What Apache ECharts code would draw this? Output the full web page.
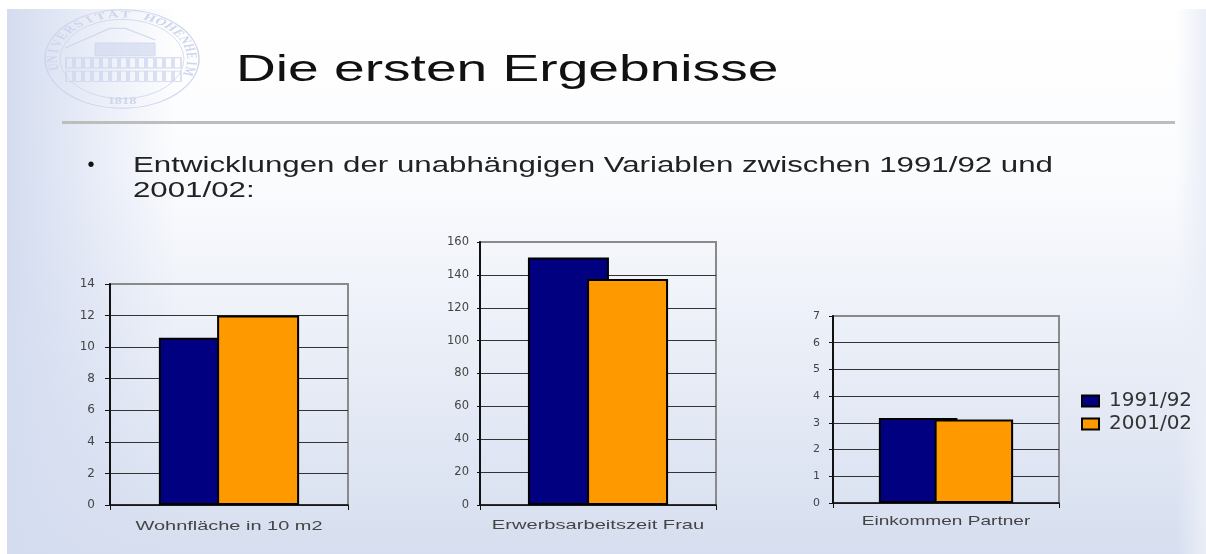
<!DOCTYPE html>
<html>
<head>
<meta charset="utf-8">
<title>Die ersten Ergebnisse</title>
<script src="https://cdn.jsdelivr.net/npm/echarts@6/dist/echarts.min.js"></script>
<style>
html, body { margin: 0; padding: 0; background: #fff; }
#main { width: 1206px; height: 554px; }
</style>
</head>
<body>
<div id="main"></div>
<script>
// Werte
const seriesNames = ['1991/92', '2001/02']
const categories = ['Wohnfläche in 10 m2', 'Erwerbsarbeitszeit Frau', 'Einkommen Partner']
const values9192 = [10.6, 150.5, 3.18]
const values0102 = [12, 137.5, 3.13]
const axisMax = [14, 160, 7]
const axisStep = [2, 20, 1]

const slideTitle = 'Die ersten Ergebnisse'
const bulletText = ['Entwicklungen der unabhängigen Variablen zwischen 1991/92 und', '2001/02:']
const sealText = 'UNIVERSITÄT HOHENHEIM'

// Plotflächen und Balken je Diagramm
const plots = [
	{ left: 110, top: 284, width: 238, height: 221, barWidth: 82, barGap: '-29%', tick: 5, margin: 15, fontSize: 12, labelX: 229, labelY: 526, labelSize: 13.4 },
	{ left: 480, top: 242, width: 236, height: 263, barWidth: 81, barGap: '-27%', tick: 3, margin: 11, fontSize: 11.5, labelX: 598, labelY: 525, labelSize: 13.5 },
	{ left: 833, top: 316, width: 226, height: 187, barWidth: 78.5, barGap: '-29%', tick: 4, margin: 13, fontSize: 11, labelX: 946, labelY: 521, labelSize: 12.8 }
]
const textStretch = 1.49

const grids = []
const xAxes = []
const yAxes = []
const series = []

plots.forEach((p, i) => {
	grids.push({
		left: p.left, top: p.top, width: p.width, height: p.height,
		show: true, borderColor: '#8a8a8a', borderWidth: 2, backgroundColor: 'transparent'
	})
	xAxes.push({
		type: 'category', gridIndex: i, data: [categories[i]],
		axisLine: { lineStyle: { color: '#111', width: 1.5 } },
		axisTick: { show: true, alignWithLabel: false, length: 5, lineStyle: { color: '#111' } },
		axisLabel: { show: false }
	})
	yAxes.push({
		type: 'value', gridIndex: i, min: 0, max: axisMax[i], interval: axisStep[i],
		axisLine: { show: true, lineStyle: { color: '#111', width: 2 } },
		axisTick: { show: true, length: p.tick, lineStyle: { color: '#111' } },
		axisLabel: { color: '#444', fontFamily: 'DejaVu Sans', fontSize: p.fontSize, margin: p.margin },
		splitLine: { show: true, showMaxLine: false, lineStyle: { color: '#333', width: 1.2 } }
	})
	series.push({
		name: seriesNames[0], type: 'bar', xAxisIndex: i, yAxisIndex: i,
		data: [values9192[i]], barWidth: p.barWidth, barGap: p.barGap,
		itemStyle: { color: '#000080', borderColor: '#000', borderWidth: 2 }
	})
	series.push({
		name: seriesNames[1], type: 'bar', xAxisIndex: i, yAxisIndex: i,
		data: [values0102[i]], barWidth: p.barWidth, barGap: p.barGap,
		itemStyle: { color: '#ff9900', borderColor: '#000', borderWidth: 2 }
	})
})

// Hintergrund der Folie
const background = [
	{
		type: 'rect', z: -30, silent: true,
		shape: { x: 7, y: 9, width: 1199, height: 545 },
		style: { fill: new echarts.graphic.LinearGradient(0, 0, 0, 1, [
			{ offset: 0, color: '#ffffff' },
			{ offset: 0.3, color: '#fbfcfe' },
			{ offset: 1, color: '#d6deef' }
		]) }
	},
	{
		type: 'rect', z: -29, silent: true,
		shape: { x: 7, y: 9, width: 170, height: 545 },
		style: { fill: new echarts.graphic.LinearGradient(0, 0, 1, 0, [
			{ offset: 0, color: 'rgba(212,220,240,1)' },
			{ offset: 1, color: 'rgba(212,220,240,0)' }
		]) }
	},
	{
		type: 'rect', z: -29, silent: true,
		shape: { x: 1176, y: 9, width: 30, height: 545 },
		style: { fill: new echarts.graphic.LinearGradient(0, 0, 1, 0, [
			{ offset: 0, color: 'rgba(234,238,247,0)' },
			{ offset: 1, color: 'rgba(234,238,247,1)' }
		]) }
	},
	{
		type: 'rect', z: -20, silent: true,
		shape: { x: 62, y: 121, width: 1113, height: 3 },
		style: { fill: '#bdbdbd' }
	}
]

// Siegel oben links, als Gruppe in die Ellipse gestaucht
const sealColor = '#cdd5ec'
const sealChildren = [
	{ type: 'circle', shape: { cx: 0, cy: 0, r: 77 }, style: { fill: 'none', stroke: sealColor, lineWidth: 1.5 } },
	{ type: 'circle', shape: { cx: 0, cy: 0, r: 62 }, style: { fill: 'none', stroke: sealColor, lineWidth: 1 } }
]
const sealLetters = sealText.split('')
sealLetters.forEach((ch, i) => {
	const a = -1.75 + i * (3.6 / (sealLetters.length - 1))
	sealChildren.push({
		type: 'text',
		x: Math.sin(a) * 69, y: -Math.cos(a) * 69, rotation: -a,
		style: { text: ch, fill: sealColor, font: 'bold 15px "Liberation Serif"', align: 'center', verticalAlign: 'middle' }
	})
})
// Gebäude im Siegel
sealChildren.push({
	type: 'polyline',
	shape: { points: [[-57, -17], [-12, -48], [3, -48], [33, -30]] },
	style: { fill: 'none', stroke: sealColor, lineWidth: 1.5 }
})
sealChildren.push({
	type: 'rect', shape: { x: -27, y: -25, width: 60, height: 20 },
	style: { fill: 'rgba(205,213,236,0.6)', stroke: sealColor, lineWidth: 1 }
})
for (let row = 0; row < 2; row++) {
	for (let col = 0; col < 13; col++) {
		sealChildren.push({
			type: 'rect',
			shape: { x: -56 + col * 9, y: -2 + row * 21, width: 7, height: 16 },
			style: { fill: 'none', stroke: sealColor, lineWidth: 1.4 }
		})
	}
}
const seal = [
	{
		type: 'group', x: 122, y: 59, scaleY: 0.64, z: -10, silent: true,
		children: sealChildren
	},
	{
		type: 'text', x: 122, y: 101, scaleX: 1.3, z: -10, silent: true,
		style: { text: '1818', fill: sealColor, font: 'bold 11px "Liberation Serif"', align: 'center', verticalAlign: 'middle' }
	}
]

// Folientext, in der Vorlage waagerecht gestreckt
const texts = [
	{
		type: 'text', x: 236, y: 71, scaleX: textStretch, z: 5, silent: true,
		style: { text: slideTitle, fill: '#111', font: '37px "Liberation Sans"', verticalAlign: 'middle' }
	},
	{
		type: 'text', x: 91, y: 165, z: 5, silent: true,
		style: { text: '•', fill: '#111', font: '20px "Liberation Sans"', verticalAlign: 'middle', align: 'center' }
	},
	{
		type: 'text', x: 133, y: 166, scaleX: 1.42, z: 5, silent: true,
		style: { text: bulletText[0], fill: '#222', font: '22px "Liberation Sans"', verticalAlign: 'middle' }
	},
	{
		type: 'text', x: 133, y: 191, scaleX: 1.42, z: 5, silent: true,
		style: { text: bulletText[1], fill: '#222', font: '22px "Liberation Sans"', verticalAlign: 'middle' }
	}
]
plots.forEach((p, i) => {
	texts.push({
		type: 'text', x: p.labelX, y: p.labelY, scaleX: textStretch, z: 5, silent: true,
		style: { text: categories[i], fill: '#444', font: p.labelSize + 'px "Liberation Sans"', align: 'center', verticalAlign: 'middle' }
	})
})

let myChart = echarts.init(document.getElementById('main'), null, { renderer: 'canvas' })
let option = {
	animation: false,
	backgroundColor: '#ffffff',
	grid: grids,
	xAxis: xAxes,
	yAxis: yAxes,
	series: series,
	legend: {
		data: seriesNames,
		icon: 'rect',
		orient: 'vertical',
		left: 1076,
		top: 386,
		itemWidth: 17,
		itemHeight: 11,
		itemGap: 3,
		textStyle: { color: '#333', fontFamily: 'DejaVu Sans', fontSize: 20, padding: [0, 0, 0, 5] }
	},
	graphic: background.concat(seal, texts)
}
myChart.setOption(option)
</script>
</body>
</html>
